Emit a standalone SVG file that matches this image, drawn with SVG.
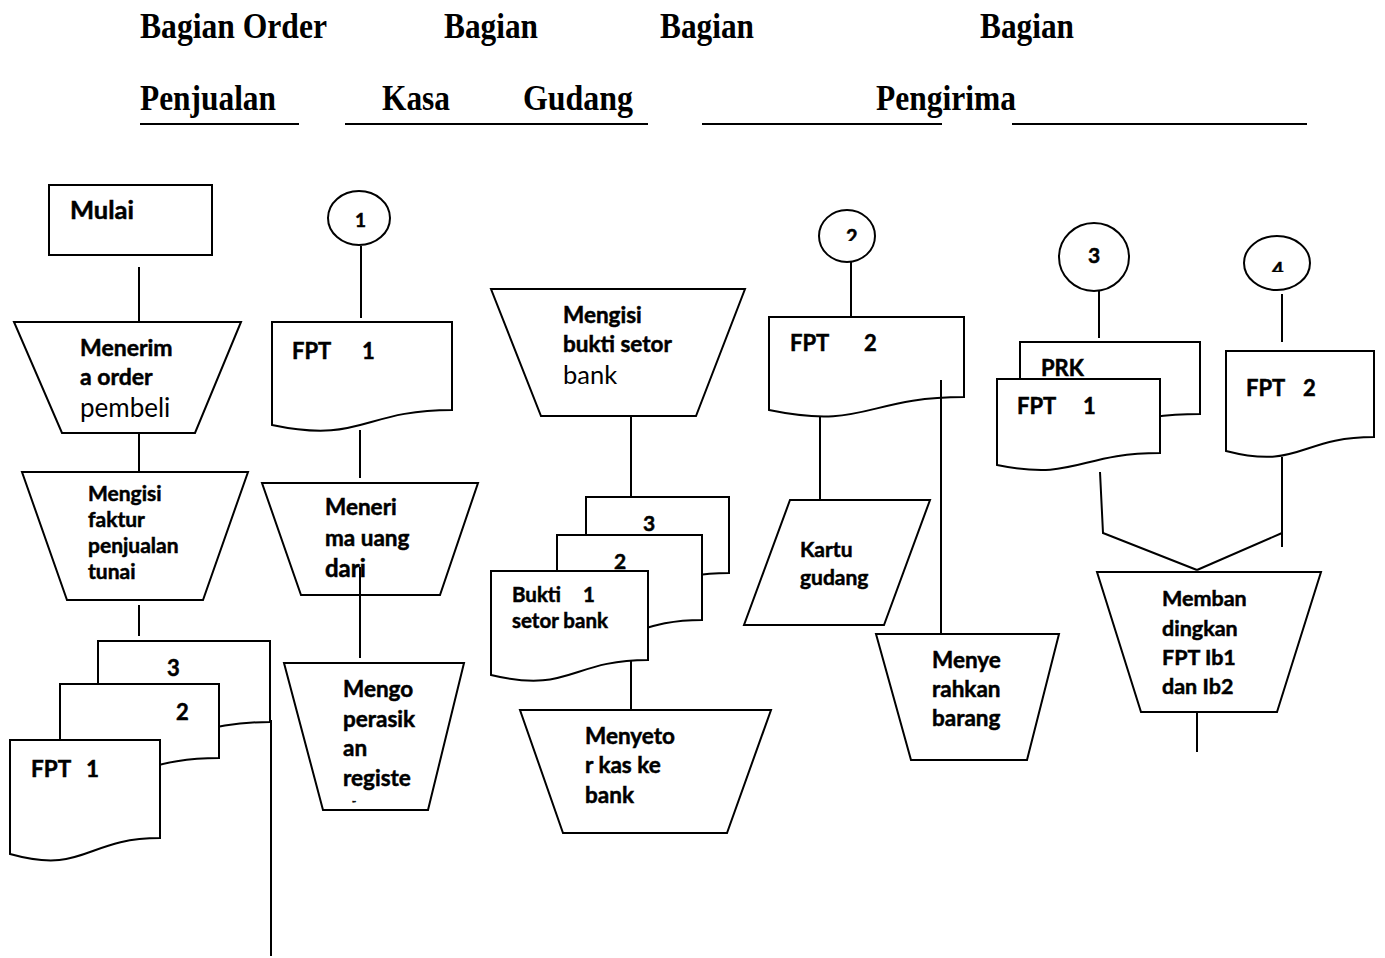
<svg xmlns="http://www.w3.org/2000/svg" width="1385" height="958" viewBox="0 0 1385 958">
<style>
.s{fill:#fff;stroke:#000;stroke-width:2}
.c{stroke:#000;stroke-width:2;fill:none}
.u{stroke:#000;stroke-width:2}
.h{font-family:"Liberation Serif",serif;font-weight:bold;font-size:35px;fill:#000}
.t{font-family:Lato,"Liberation Sans",sans-serif;font-weight:bold;fill:#000;stroke:#000;stroke-width:0.5}
.n{font-weight:normal;stroke:none}
</style>
<defs>
<clipPath id="cp2"><rect x="820" y="200" width="60" height="41"/></clipPath>
<clipPath id="cp4"><rect x="1240" y="230" width="80" height="42"/></clipPath>
<clipPath id="cpr"><rect x="330" y="800" width="80" height="2.5"/></clipPath>
</defs>
<g id="header">
<text class="h" x="140" y="38" textLength="187" lengthAdjust="spacingAndGlyphs">Bagian Order</text>
<text class="h" x="444" y="38" textLength="94" lengthAdjust="spacingAndGlyphs">Bagian</text>
<text class="h" x="660" y="38" textLength="94" lengthAdjust="spacingAndGlyphs">Bagian</text>
<text class="h" x="980" y="38" textLength="94" lengthAdjust="spacingAndGlyphs">Bagian</text>
<text class="h" x="140" y="110" textLength="136" lengthAdjust="spacingAndGlyphs">Penjualan</text>
<text class="h" x="382" y="110" textLength="68" lengthAdjust="spacingAndGlyphs">Kasa</text>
<text class="h" x="523" y="110" textLength="110" lengthAdjust="spacingAndGlyphs">Gudang</text>
<text class="h" x="876" y="110" textLength="140" lengthAdjust="spacingAndGlyphs">Pengirima</text>
<line class="u" x1="140" y1="124" x2="299" y2="124"/>
<line class="u" x1="345" y1="124" x2="648" y2="124" stroke-width="3"/>
<line class="u" x1="702" y1="124" x2="942" y2="124"/>
<line class="u" x1="1012" y1="124" x2="1307" y2="124"/>
</g>
<g id="connectors">
<line class="c" x1="139" y1="267" x2="139" y2="322"/>
<line class="c" x1="139" y1="433" x2="139" y2="472"/>
<line class="c" x1="139" y1="605" x2="139" y2="636"/>
<line class="c" x1="271" y1="720" x2="271" y2="956"/>
<line class="c" x1="361" y1="246" x2="361" y2="318"/>
<line class="c" x1="360" y1="430" x2="360" y2="478" stroke-width="3"/>
<line class="c" x1="360" y1="567" x2="360" y2="658"/>
<line class="c" x1="631" y1="416" x2="631" y2="497"/>
<line class="c" x1="631" y1="660" x2="631" y2="710"/>
<line class="c" x1="851" y1="260" x2="851" y2="316"/>
<line class="c" x1="820" y1="417" x2="820" y2="500"/>
<line class="c" x1="941" y1="380" x2="941" y2="634"/>
<line class="c" x1="1099" y1="290" x2="1099" y2="338"/>
<line class="c" x1="1282" y1="294" x2="1282" y2="342"/>
<polyline class="c" points="1100,472 1103,533 1197,570"/>
<line class="c" x1="1282" y1="457" x2="1282" y2="547"/>
<line class="c" x1="1282" y1="533" x2="1197" y2="570"/>
<line class="c" x1="1197" y1="712" x2="1197" y2="752"/>
</g>
<g id="mulai">
<rect class="s" x="49" y="185" width="163" height="70"/>
<text class="t" x="70" y="219" font-size="25.5">Mulai</text>
</g>
<g id="menerima-order">
<path class="s" d="M14,322 H241 L195,433 H62 Z"/>
<text class="t" x="80" y="356" font-size="23">Menerim</text>
<text class="t" x="80" y="385" font-size="23">a order</text>
<text class="t n" x="80" y="417" font-size="26">pembeli</text>
</g>
<g id="mengisi-faktur">
<path class="s" d="M22,472 H248 L203,600 H67 Z"/>
<text class="t" x="88" y="501" font-size="21">Mengisi</text>
<text class="t" x="88" y="527" font-size="21">faktur</text>
<text class="t" x="88" y="553" font-size="21">penjualan</text>
<text class="t" x="88" y="579" font-size="21">tunai</text>
</g>
<g id="fpt-stack-1">
<path class="s" d="M98,641 H270 V722 C184,722 184,753 98,735 Z"/>
<text class="t" x="167" y="676" font-size="22">3</text>
<path class="s" d="M60,684 H219 V758 C139,758 139,786 60,770 Z"/>
<text class="t" x="176" y="720" font-size="22">2</text>
<path class="s" d="M10,740 H160 V838 C85,838 85,875 10,854 Z"/>
<text class="t" x="31" y="777" font-size="22.5">FPT</text>
<text class="t" x="86" y="777" font-size="22.5">1</text>
</g>
<g id="konektor-1">
<ellipse class="s" cx="359" cy="218" rx="31" ry="27"/>
<text class="t" x="355" y="227" font-size="19">1</text>
</g>
<g id="fpt1-kasa">
<path class="s" d="M272,322 H452 V410 C362,410 362,444 272,425 Z"/>
<text class="t" x="292" y="359" font-size="22">FPT</text>
<text class="t" x="362" y="359" font-size="22">1</text>
</g>
<g id="menerima-uang">
<path class="s" d="M262,483 H478 L440,595 H301 Z"/>
<text class="t" x="325" y="515" font-size="22.5">Meneri</text>
<text class="t" x="325" y="546" font-size="22.5">ma uang</text>
<text class="t" x="325" y="577" font-size="24">dari</text>
</g>
<line class="c" x1="360" y1="567" x2="360" y2="596"/>
<g id="mengoperasikan">
<path class="s" d="M284,663 H464 L428,810 H323 Z"/>
<text class="t" x="343" y="697" font-size="22.5">Mengo</text>
<text class="t" x="343" y="727" font-size="22.5">perasik</text>
<text class="t" x="343" y="756" font-size="22.5">an</text>
<text class="t" x="343" y="786" font-size="22.5">registe</text>
<text class="t" x="352" y="806" font-size="10" clip-path="url(#cpr)">r</text>
</g>
<g id="mengisi-bukti">
<path class="s" d="M491,289 H745 L696,416 H541 Z"/>
<text class="t" x="563" y="323" font-size="22.5">Mengisi</text>
<text class="t" x="563" y="352" font-size="22.5">bukti setor</text>
<text class="t n" x="563" y="384" font-size="25.5">bank</text>
</g>
<g id="bukti-stack">
<path class="s" d="M586,497 H729 V573 C658,573 658,602 586,586 Z"/>
<text class="t" x="643" y="531" font-size="21">3</text>
<path class="s" d="M557,535 H702 V620 C630,620 630,651 557,631 Z"/>
<text class="t" x="614" y="569" font-size="21">2</text>
<path class="s" d="M491,571 H648 V660 C570,660 570,694 491,675 Z"/>
<text class="t" x="512" y="602" font-size="20.5">Bukti</text>
<text class="t" x="583" y="602" font-size="20.5">1</text>
<text class="t" x="512" y="628" font-size="20.5">setor bank</text>
</g>
<g id="menyetor">
<path class="s" d="M520,710 H771 L727,833 H563 Z"/>
<text class="t" x="585" y="744" font-size="22.5">Menyeto</text>
<text class="t" x="585" y="773" font-size="22.5">r kas ke</text>
<text class="t" x="585" y="803" font-size="22.5">bank</text>
</g>
<g id="konektor-2">
<ellipse class="s" cx="847" cy="236" rx="28" ry="26"/>
<text class="t" x="846" y="244" font-size="20" clip-path="url(#cp2)">2</text>
</g>
<g id="fpt2-gudang">
<path class="s" d="M769,317 H964 V397 C866,397 866,430 769,410 Z"/>
<text class="t" x="790" y="351" font-size="22">FPT</text>
<text class="t" x="864" y="351" font-size="22">2</text>
</g>
<line class="c" x1="941" y1="380" x2="941" y2="400"/>
<g id="kartu-gudang">
<path class="s" d="M790,500 H930 L884,625 H744 Z"/>
<text class="t" x="800" y="557" font-size="21">Kartu</text>
<text class="t" x="800" y="585" font-size="21">gudang</text>
</g>
<g id="menyerahkan">
<path class="s" d="M876,634 H1059 L1027,760 H911 Z"/>
<text class="t" x="932" y="668" font-size="22.5">Menye</text>
<text class="t" x="932" y="697" font-size="22.5">rahkan</text>
<text class="t" x="932" y="726" font-size="22.5">barang</text>
</g>
<g id="konektor-3">
<ellipse class="s" cx="1094" cy="257" rx="35" ry="34"/>
<text class="t" x="1088" y="263" font-size="21">3</text>
</g>
<g id="prk-fpt1">
<path class="s" d="M1020,342 H1200 V414 C1110,414 1110,441 1020,426 Z"/>
<text class="t" x="1041" y="376" font-size="22">PRK</text>
<path class="s" d="M997,379 H1160 V453 C1078,453 1078,481 997,465 Z"/>
<text class="t" x="1017" y="414" font-size="22">FPT</text>
<text class="t" x="1083" y="414" font-size="22">1</text>
</g>
<g id="konektor-4">
<ellipse class="s" cx="1277" cy="263" rx="33" ry="27"/>
<text class="t" x="1272" y="277" font-size="20" clip-path="url(#cp4)">4</text>
</g>
<g id="fpt2-kirim">
<path class="s" d="M1226,351 H1374 V437 C1300,437 1300,470 1226,451 Z"/>
<text class="t" x="1246" y="396" font-size="22">FPT</text>
<text class="t" x="1303" y="396" font-size="22">2</text>
</g>
<g id="membandingkan">
<path class="s" d="M1097,572 H1321 L1277,712 H1141 Z"/>
<text class="t" x="1162" y="606" font-size="21.5">Memban</text>
<text class="t" x="1162" y="636" font-size="21.5">dingkan</text>
<text class="t" x="1162" y="665" font-size="21.5">FPT Ib1</text>
<text class="t" x="1162" y="694" font-size="21.5">dan Ib2</text>
</g>
</svg>
